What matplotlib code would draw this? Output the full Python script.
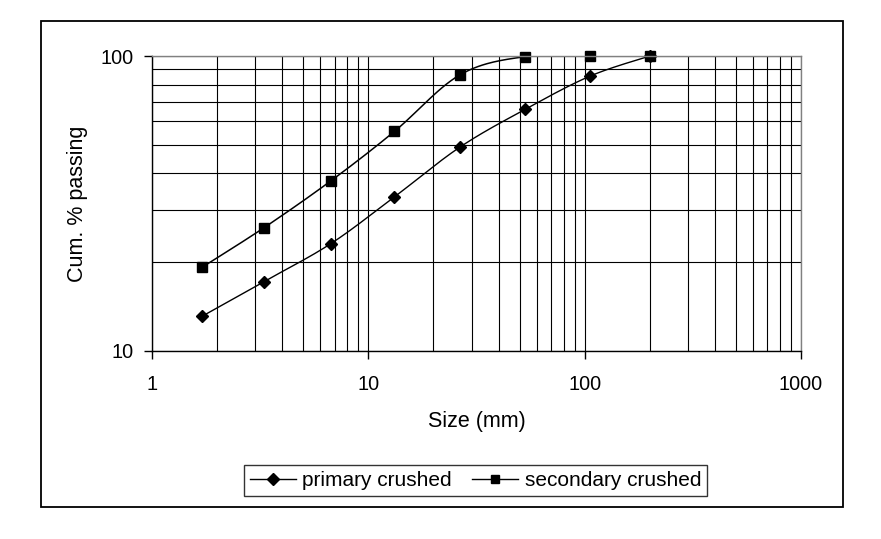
import numpy as np
import matplotlib.pyplot as plt
from matplotlib.patches import Rectangle
from matplotlib.ticker import FixedLocator, NullFormatter

plt.rcParams['font.family'] = ['Liberation Sans', 'DejaVu Sans']

# sieve sizes (mm) and cumulative % passing
size_mm = [1.7, 3.3, 6.7, 13.2, 26.5, 53, 106, 200]
primary = [13.1, 17.2, 23.1, 33.3, 49.1, 65.9, 85.5, 100]
secondary = [19.2, 26.2, 37.7, 55.5, 86.3, 99.5, 100, 100]

x_ticks = [1, 10, 100, 1000]
y_ticks = [10, 100]


def smooth(x, y, n=30):
    # Excel style smoothed line (Bezier / Catmull-Rom) in log space
    lx = np.log10(x)
    ly = np.log10(y)
    pts = np.column_stack([lx, ly])
    p = np.vstack([pts[0], pts, pts[-1]])
    out = []
    t = np.linspace(0, 1, n)[:, None]
    for i in range(1, len(p) - 2):
        p0, p1, p2, p3 = p[i - 1], p[i], p[i + 1], p[i + 2]
        c1 = p1 + (p2 - p0) / 6
        c2 = p2 - (p3 - p1) / 6
        seg = ((1 - t) ** 3) * p1 + 3 * ((1 - t) ** 2) * t * c1 + 3 * (1 - t) * t ** 2 * c2 + t ** 3 * p2
        out.append(seg)
    out = np.vstack(out)
    return 10 ** out[:, 0], 10 ** out[:, 1]


fig = plt.figure(figsize=(8.81, 5.39), dpi=100)
ax = fig.add_axes([152 / 881, 1 - 351 / 539, 649 / 881, 295 / 539])

ax.set_xscale('log')
ax.set_yscale('log')
ax.set_xlim(1, 1000)
ax.set_ylim(10, 100)

sx, sy = smooth(size_mm, primary)
ax.plot(sx, sy, color='black', lw=1)
ax.plot(size_mm, primary, ls='none', marker='D', ms=6.5, color='black', clip_on=False)
sx, sy = smooth(size_mm, secondary)
ax.plot(sx, sy, color='black', lw=1.1)
ax.plot(size_mm, secondary, ls='none', marker='s', ms=6.5, color='black', clip_on=False)

# grid
ax.xaxis.set_major_locator(FixedLocator(x_ticks))
ax.yaxis.set_major_locator(FixedLocator(y_ticks))
ax.xaxis.set_minor_locator(FixedLocator([m * d for d in [1, 10, 100] for m in range(2, 10)]))
ax.yaxis.set_minor_locator(FixedLocator([m * 10 for m in range(2, 10)]))
ax.xaxis.set_minor_formatter(NullFormatter())
ax.yaxis.set_minor_formatter(NullFormatter())
ax.set_xticklabels([str(v) for v in x_ticks])
ax.set_yticklabels([str(v) for v in y_ticks])
ax.grid(True, which='both', color='black', lw=0.8)
ax.set_axisbelow(True)

ax.tick_params(which='major', direction='out', length=5.5, width=1, color='black', labelsize=14.3)
ax.tick_params(axis='x', which='major', pad=12)
ax.tick_params(axis='y', which='major', pad=8)
ax.tick_params(which='minor', length=0)

for s in ['top', 'right']:
    ax.spines[s].set_color('#808080')
    ax.spines[s].set_linewidth(1)
for s in ['left', 'bottom']:
    ax.spines[s].set_color('black')
    ax.spines[s].set_linewidth(1)

ax.set_xlabel('Size (mm)', fontsize=15.5, va='center')
ax.xaxis.set_label_coords(0.5, -(422 - 351) / 295)
ax.set_ylabel('Cum. % passing', fontsize=15.5, va='center')
ax.yaxis.set_label_coords((77.5 - 152) / 649, 0.5)

# legend
h1, = ax.plot([], [], color='black', lw=1, marker='D', ms=6)
h2, = ax.plot([], [], color='black', lw=1, marker='s', ms=6)
leg = fig.legend([h1, h2], ['primary crushed', 'secondary crushed'], loc='center',
                 bbox_to_anchor=(475.5 / 881, 1 - 480.5 / 539), ncol=2, fontsize=15,
                 frameon=True, fancybox=False, edgecolor='black', handlelength=2.2,
                 handletextpad=0.3, columnspacing=1.0, borderpad=0.3)
leg.get_frame().set_linewidth(1)

# outer chart border
fig.patches.append(Rectangle((41 / 881, 1 - 507 / 539), 802 / 881, 486 / 539,
                             transform=fig.transFigure, fill=False, edgecolor='black', lw=1.3))

fig.savefig('out.png', dpi=100)
